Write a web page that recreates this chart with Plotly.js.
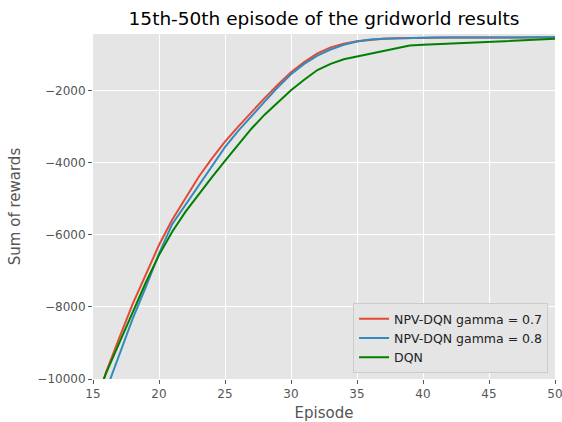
<!DOCTYPE html>
<html>
<head>
<meta charset="utf-8">
<script src="https://cdn.plot.ly/plotly-3.0.1.min.js"></script>
<style>html,body{margin:0;padding:0;background:#fff;}#chart{width:562px;height:422px;}</style>
</head>
<body>
<div id="chart"></div>
<script>
const episodes = [15,16,17,18,19,20,21,22,23,24,25,26,27,28,29,30,31,32,33,34,35,36,37,38,39,40,41,42,43,44,45,46,47,48,49,50];
const npvGamma07 = [-10900,-9800,-8850,-7920,-7100,-6280,-5580,-4990,-4390,-3880,-3410,-2990,-2580,-2200,-1830,-1480,-1200,-960,-790,-690,-620,-580,-555,-540,-530,-522,-520,-519,-518,-517,-516,-515,-514,-513,-512,-511];
const npvGamma08 = [-11300,-10300,-9330,-8330,-7450,-6520,-5700,-5170,-4650,-4110,-3560,-3110,-2690,-2300,-1900,-1540,-1250,-1020,-850,-720,-630,-575,-550,-535,-527,-521,-520,-519,-518,-517,-516,-515,-514,-513,-512,-511];
const dqn = [-10800,-9830,-8990,-8140,-7320,-6560,-5910,-5360,-4870,-4400,-3940,-3480,-3050,-2660,-2320,-1980,-1690,-1420,-1250,-1120,-1045,-970,-895,-820,-740,-720,-705,-690,-672,-655,-638,-622,-605,-590,-572,-555];
const seriesNames = ['NPV-DQN gamma = 0.7','NPV-DQN gamma = 0.8','DQN'];
const xTicks = [15,20,25,30,35,40,45,50];
const yTicks = [-10000,-8000,-6000,-4000,-2000];
const yTickText = ['\u221210000','\u22128000','\u22126000','\u22124000','\u22122000'];

const colors = ['#E24A33','#348ABD','#008000'];
const ys = [npvGamma07, npvGamma08, dqn];
const traces = ys.map((y,i)=>({
  x: episodes, y: y, type:'scatter', mode:'lines', name: seriesNames[i],
  line:{color:colors[i], width:2}
}));

const layout = {
  width:562, height:422,
  margin:{l:92.5, r:7, t:34, b:43, pad:0},
  paper_bgcolor:'#ffffff', plot_bgcolor:'#E5E5E5',
  font:{family:'DejaVu Sans, sans-serif', color:'#555555'},
  title:{text:'15th-50th episode of the gridworld results', font:{size:18.5, color:'#000000'}, x:0.5, xref:'paper', y:0.955, yref:'container', yanchor:'middle'},
  xaxis:{range:[15,50], tickvals:xTicks, ticktext:xTicks.map(String), showgrid:true, gridcolor:'#ffffff', gridwidth:1,
    zeroline:false, showline:false, ticks:'outside', ticklen:4, tickcolor:'#555555', tickfont:{size:12,color:'#555555'},
    ticklabeloverflow:'allow',
    title:{text:'Episode', font:{size:15,color:'#555555'}, standoff:7}, automargin:false},
  yaxis:{range:[-10000,-420], tickvals:yTicks, ticktext:yTickText, showgrid:true, gridcolor:'#ffffff', gridwidth:1,
    zeroline:false, showline:false, ticks:'outside', ticklen:4, tickcolor:'#555555', tickfont:{size:12,color:'#555555'},
    ticklabeloverflow:'allow',
    title:{text:'Sum of rewards', font:{size:15,color:'#555555'}, standoff:13}, automargin:false},
  legend:{x:0.985, y:0.017, xanchor:'right', yanchor:'bottom', bgcolor:'#E5E5E5', bordercolor:'#CCCCCC', borderwidth:1,
    font:{size:12.5, color:'#222222'}, tracegroupgap:0},
  showlegend:true
};
Plotly.newPlot('chart', traces, layout, {displayModeBar:false, staticPlot:true});
</script>
</body>
</html>
